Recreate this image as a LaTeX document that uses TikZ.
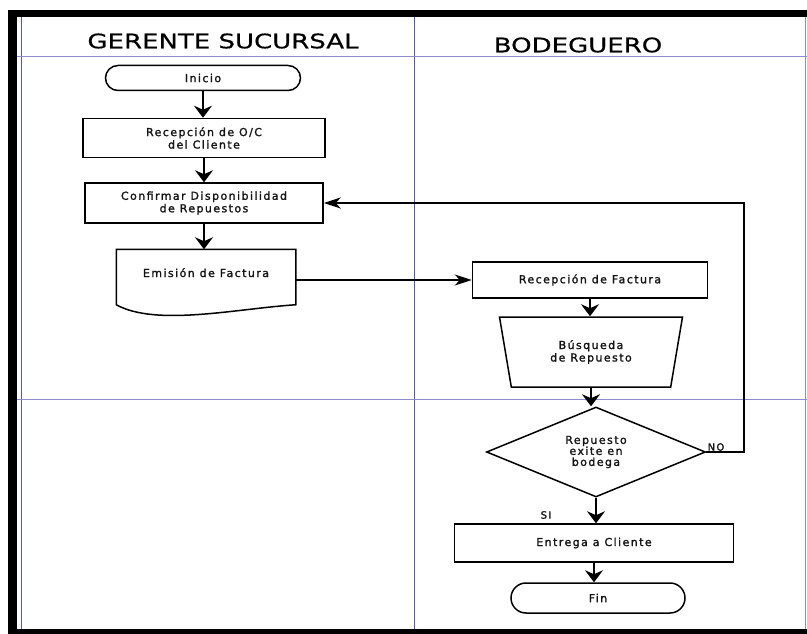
\documentclass[tikz,border=0pt]{standalone}
\usepackage{fontspec}
\setmainfont{DejaVu Sans}
\newfontfamily\cajafont[LetterSpace=13,FakeBold=1.6]{DejaVu Sans}
\newfontfamily\carrilfont[FakeStretch=1.3,FakeBold=0.6]{DejaVu Sans}
\usetikzlibrary{shapes.geometric,shapes.misc,arrows.meta,calc}
\definecolor{carril}{RGB}{85,85,200}
\definecolor{carrilclaro}{RGB}{140,140,205}
\definecolor{texto}{RGB}{20,20,20}
\tikzset{
  caja/.style={draw, line width=1.5pt, font=\cajafont\fontsize{11}{12.5}\selectfont,
    text=texto, align=center, inner sep=0pt},
  proceso/.style={caja, rectangle},
  terminal/.style={caja, rounded rectangle},
  documento/.style={caja, draw=none, rectangle, text height=8pt, text depth=14pt},
  busqueda/.style={caja, trapezium, trapezium stretches body, shape border rotate=180,
    trapezium left angle=63.4, trapezium right angle=63.4},
  decision/.style={caja, diamond, aspect=2.4, font=\cajafont\fontsize{11}{11}\selectfont},
  etiqueta/.style={font=\cajafont\fontsize{10}{10}\selectfont, text=texto, inner sep=0pt},
  carriltitulo/.style={font=\carrilfont\fontsize{20}{20}\selectfont, inner sep=0pt},
  flecha/.style={line width=2.4pt, -{Stealth[length=12pt,width=18pt,inset=4pt]}},
  flechafina/.style={line width=1.4pt, -{Stealth[length=17pt,width=11pt,inset=5pt]}}
}
\begin{document}
\begin{tikzpicture}[x=1pt,y=-1pt]
\useasboundingbox (0,0) rectangle (807,634);
% marco
\fill (8,10) rectangle (807,17);
\fill (8,10) rectangle (17,634);
\fill (8,629) rectangle (807,634);
% carriles
\draw[carril, line width=1pt] (21,17) -- (21,629);
\draw[carril, line width=1pt] (414,17) -- (414,629);
\draw[carrilclaro, line width=1pt] (805.5,17) -- (805.5,629);
\draw[carrilclaro, line width=0.9pt] (17,56) -- (807,56);
\draw[carrilclaro, line width=0.9pt] (17,399) -- (807,399);
\node[carriltitulo] (gerente) at (223,41) {GERENTE SUCURSAL};
\node[carriltitulo] (bodeguero) at (578,45) {BODEGUERO};
% gerente sucursal
\node[terminal, minimum width=195pt, minimum height=25pt] (inicio) at (203,78) {Inicio};
\node[proceso, minimum width=242pt, minimum height=39pt] (recoc) at (204,138) {Recepción de O/C\\del Cliente};
\node[proceso, minimum width=238pt, minimum height=40pt] (confirmar) at (204,203) {Confirmar Disponibilidad\\de Repuestos};
\node[documento, minimum width=178pt, minimum height=60pt] (emision) at (206,280) {Emisión de Factura};
\draw[line width=1.5pt] ($(emision.south west)+(0,-6)$) -- (emision.north west) -- (emision.north east)
  -- ($(emision.south east)+(0,-6)$) .. controls ($(emision.south east)+(-60,-2)$) and ($(emision.south west)+(40,16)$) .. ($(emision.south west)+(0,-6)$);
% bodeguero
\node[proceso, minimum width=235pt, minimum height=36pt] (recfactura) at (590,280) {Recepción de Factura};
\node[busqueda, minimum width=183pt, minimum height=70pt] (buscar) at (591,352) {Búsqueda\\de Repuesto};
\node[decision, minimum width=219pt, minimum height=90pt] (existe) at (596,452) {Repuesto\\exite en\\bodega};
\node[proceso, minimum width=279pt, minimum height=38pt] (entrega) at (594,543) {Entrega a Cliente};
\node[terminal, minimum width=174pt, minimum height=30pt] (fin) at (598,598) {Fin};
\coordinate (retorno) at (744,203);
\node[etiqueta] (no) at (716,447) {NO};
\node[etiqueta] (si) at (546,515) {SI};
% conectores
\draw[flecha] (inicio.south) -- (inicio.south |- recoc.north);
\draw[flecha] (recoc.south) -- (recoc.south |- confirmar.north);
\draw[flecha] (confirmar.south) -- (confirmar.south |- emision.north);
\draw[flechafina] (emision.east) -- (recfactura.west);
\draw[flecha] (recfactura.south) -- (recfactura.south |- buscar.north);
\draw[flecha] (buscar.south) -- (buscar.south |- existe.north);
\draw[flecha] (existe.south) -- (existe.south |- entrega.north);
\draw[flecha] (entrega.south) -- (entrega.south |- fin.north);
\draw[flechafina] (existe.east) -| (retorno) -- (confirmar.east);
\end{tikzpicture}
\end{document}
